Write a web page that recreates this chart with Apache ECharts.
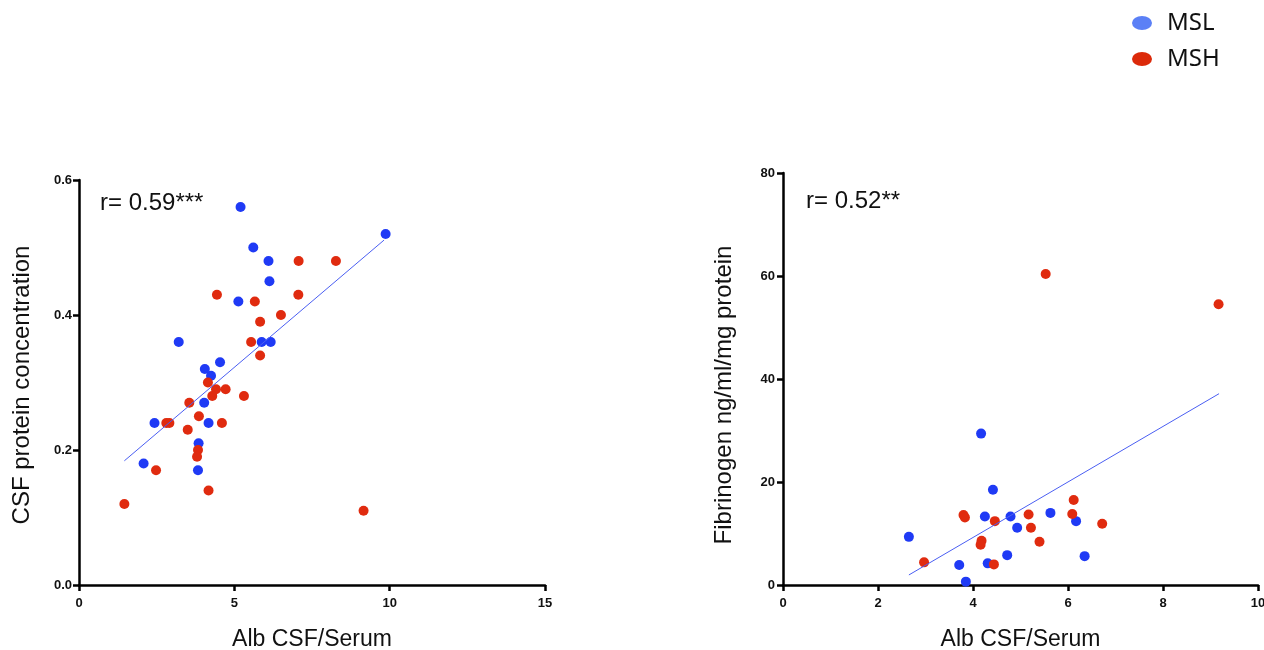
<!DOCTYPE html>
<html>
<head>
<meta charset="utf-8">
<style>
  html, body { margin: 0; padding: 0; background: #fff; }
  #chart { width: 1264px; height: 650px; }
</style>
<script src="https://cdn.jsdelivr.net/npm/echarts@6/dist/echarts.min.js"></script>
</head>
<body>
<div id="chart"></div>
<script>
// left panel: Alb CSF/Serum vs CSF protein concentration
const csfMsl = [
  [5.2, 0.56], [9.87, 0.52], [5.61, 0.50], [6.1, 0.48], [6.13, 0.45],
  [5.13, 0.42], [3.21, 0.36], [5.88, 0.36], [6.17, 0.36], [4.54, 0.33],
  [4.05, 0.32], [4.25, 0.31], [4.03, 0.27], [2.43, 0.24], [4.17, 0.24],
  [3.85, 0.21], [2.08, 0.18], [3.83, 0.17]
];
const csfMsh = [
  [7.07, 0.48], [8.27, 0.48], [4.44, 0.43], [7.06, 0.43], [5.66, 0.42],
  [6.5, 0.40], [5.83, 0.39], [5.54, 0.36], [5.83, 0.34], [4.15, 0.30],
  [4.41, 0.29], [4.72, 0.29], [4.29, 0.28], [5.31, 0.28], [3.55, 0.27],
  [3.86, 0.25], [2.81, 0.24], [2.91, 0.24], [4.6, 0.24], [3.5, 0.23],
  [3.83, 0.20], [3.8, 0.19], [2.48, 0.17], [4.17, 0.14], [1.46, 0.12],
  [9.16, 0.11]
];
const csfFit = [[1.46, 0.184], [9.82, 0.511]];

// right panel: Alb CSF/Serum vs Fibrinogen
const fibMsl = [
  [4.17, 29.4], [4.42, 18.5], [4.25, 13.3], [4.79, 13.3], [5.63, 14.0],
  [6.17, 12.4], [4.93, 11.1], [2.65, 9.35], [3.71, 3.9], [4.31, 4.2],
  [4.72, 5.8], [6.35, 5.6], [3.85, 0.65]
];
const fibMsh = [
  [5.53, 60.4], [9.17, 54.5], [6.12, 16.5], [3.8, 13.6], [3.83, 13.1],
  [4.46, 12.4], [5.17, 13.7], [6.09, 13.8], [6.72, 11.9], [5.22, 11.1],
  [4.18, 8.6], [4.16, 7.8], [5.40, 8.4], [2.97, 4.4], [4.44, 4.0]
];
const fibFit = [[2.65, 1.95], [9.18, 37.15]];

const blue = "#1f3af5";
const red = "#e02b0f";
const fitColor = "#4a5ef2";

const chart = echarts.init(document.getElementById("chart"));

function axisBase(min, max, interval, margin, fmt) {
  return {
    type: "value",
    min: min,
    max: max,
    interval: interval,
    splitLine: { show: false },
    axisLine: { show: true, onZero: false, lineStyle: { color: "#000", width: 2.5 } },
    axisTick: { show: true, length: 6, lineStyle: { color: "#000", width: 2.5 } },
    axisLabel: {
      color: "#111",
      fontFamily: "Liberation Sans",
      fontWeight: "bold",
      fontSize: 13,
      margin: margin,
      formatter: fmt
    }
  };
}

const titleFont = { color: "#111", fontFamily: "Liberation Sans", fontSize: 23 };

chart.setOption({
  animation: false,
  legend: {
    orient: "vertical",
    left: 1127,
    top: 6,
    itemGap: 12,
    itemWidth: 20,
    itemHeight: 14,
    icon: "path://M0,7a10,7 0 1,0 20,0a10,7 0 1,0 -20,0",
    textStyle: { fontFamily: "Noto Sans", fontSize: 24, color: "#111", padding: [0, 0, 0, 10] },
    data: [
      { name: "MSL", itemStyle: { color: "#5b80f6" } },
      { name: "MSH", itemStyle: { color: "#dc2a0a" } }
    ]
  },
  grid: [
    { left: 79, top: 180, width: 466, height: 405, outerBoundsMode: "none", containLabel: false },
    { left: 783, top: 173, width: 475, height: 412, outerBoundsMode: "none", containLabel: false }
  ],
  xAxis: [
    Object.assign(axisBase(0, 15, 5, 12), {
      gridIndex: 0,
      name: "Alb CSF/Serum",
      nameLocation: "middle",
      nameGap: 43,
      nameTextStyle: titleFont
    }),
    Object.assign(axisBase(0, 10, 2, 12), {
      gridIndex: 1,
      name: "Alb CSF/Serum",
      nameLocation: "middle",
      nameGap: 43,
      nameTextStyle: titleFont
    })
  ],
  yAxis: [
    Object.assign(axisBase(0, 0.6, 0.2, 7, (v) => v.toFixed(1)), { gridIndex: 0 }),
    Object.assign(axisBase(0, 80, 20, 8), { gridIndex: 1 })
  ],
  graphic: [
    {
      type: "text", x: 22, y: 385, rotation: Math.PI / 2,
      style: { text: "CSF protein concentration", font: "24px 'Liberation Sans'", fill: "#111", align: "center", verticalAlign: "middle" }
    },
    {
      type: "text", x: 724, y: 395, rotation: Math.PI / 2,
      style: { text: "Fibrinogen ng/ml/mg protein", font: "24px 'Liberation Sans'", fill: "#111", align: "center", verticalAlign: "middle" }
    },
    {
      type: "text", x: 100, y: 191,
      style: { text: "r= 0.59***", font: "24px 'Liberation Sans'", fill: "#111" }
    },
    {
      type: "text", x: 806, y: 189,
      style: { text: "r= 0.52**", font: "24px 'Liberation Sans'", fill: "#111" }
    }
  ],
  series: [
    { name: "MSL", type: "scatter", xAxisIndex: 0, yAxisIndex: 0, symbolSize: 10, itemStyle: { color: blue, opacity: 1 }, data: csfMsl },
    { name: "MSH", type: "scatter", xAxisIndex: 0, yAxisIndex: 0, symbolSize: 10, itemStyle: { color: red, opacity: 1 }, data: csfMsh },
    { type: "line", xAxisIndex: 0, yAxisIndex: 0, symbol: "none", silent: true, lineStyle: { color: fitColor, width: 1 }, data: csfFit },
    { name: "MSL", type: "scatter", xAxisIndex: 1, yAxisIndex: 1, symbolSize: 10, itemStyle: { color: blue, opacity: 1 }, data: fibMsl },
    { name: "MSH", type: "scatter", xAxisIndex: 1, yAxisIndex: 1, symbolSize: 10, itemStyle: { color: red, opacity: 1 }, data: fibMsh },
    { type: "line", xAxisIndex: 1, yAxisIndex: 1, symbol: "none", silent: true, lineStyle: { color: fitColor, width: 1 }, data: fibFit }
  ]
});
</script>
</body>
</html>
